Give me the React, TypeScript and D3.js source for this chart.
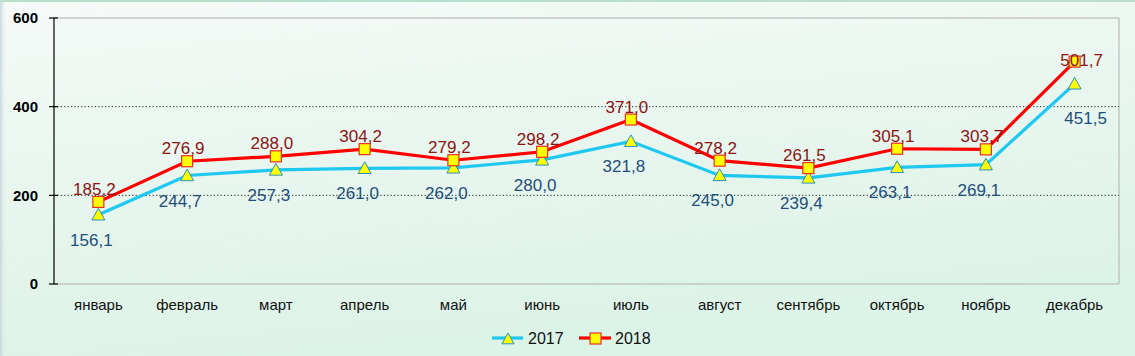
import React from "react";
import * as d3 from "d3";

const months = ["январь","февраль","март","апрель","май","июнь","июль","август","сентябрь","октябрь","ноябрь","декабрь"];
const values2017 = [156.1,244.7,257.3,261.0,262.0,280.0,321.8,245.0,239.4,263.1,269.1,451.5];
const values2018 = [185.2,276.9,288.0,304.2,279.2,298.2,371.0,278.2,261.5,305.1,303.7,501.7];
const yTicks = [0,200,400,600];
const seriesNames = ["2017","2018"];

const W = 1135, H = 356;
const M = { left: 54, right: 1119, top: 18, bottom: 284 };
const fmt = (v: number) => v.toFixed(1).replace(".", ",");

export default function App() {
  const x = d3.scaleBand<string>().domain(months).range([M.left, M.right]);
  const y = d3.scaleLinear().domain([0, 600]).range([M.bottom, M.top]);
  const cx = (m: string) => (x(m) as number) + x.bandwidth() / 2;
  const line = d3.line<number>().x((_, i) => cx(months[i])).y(d => y(d));
  const font = "'Liberation Sans', Arial, sans-serif";
  const tri = (px: number, py: number, s = 6.5) =>
    `M${px},${py - s} L${px + s},${py + s * 0.8} L${px - s},${py + s * 0.8} Z`;

  return (
    <svg width={W} height={H} style={{ position: "absolute", left: 0, top: 0 }} fontFamily={font}>
      <defs>
        <linearGradient id="bg" x1="0" y1="0" x2="0.3" y2="1">
          <stop offset="0" stopColor="#f6faf8" />
          <stop offset="0.45" stopColor="#e9f6ef" />
          <stop offset="1" stopColor="#dcf3e7" />
        </linearGradient>
        <linearGradient id="lb" x1="0" y1="0" x2="1" y2="0">
          <stop offset="0" stopColor="#c9d6e0" />
          <stop offset="1" stopColor="#e4f2ec" stopOpacity="0" />
        </linearGradient>
      </defs>
      <rect x={0} y={0} width={W} height={H} fill="url(#bg)" />
      <rect x={0} y={0} width={6} height={H} fill="url(#lb)" />
      <rect x={0} y={0} width={W} height={2} fill="#b9e0cd" />

      {/* plot border */}
      <line x1={M.left} x2={M.right} y1={y(600)} y2={y(600)} stroke="#b0b0b0" />
      <line x1={M.right} x2={M.right} y1={y(600)} y2={y(0)} stroke="#b0b0b0" />
      <line x1={M.left} x2={M.right} y1={y(0)} y2={y(0)} stroke="#b0b0b0" />

      {/* gridlines */}
      {[200, 400].map(t => (
        <line key={t} x1={M.left} x2={M.right} y1={y(t)} y2={y(t)} stroke="#222" strokeWidth={1} strokeDasharray="1.2 2.2" />
      ))}

      {/* y axis */}
      <line x1={M.left} x2={M.left} y1={y(600)} y2={y(0)} stroke="#000" strokeWidth={1.2} />
      {yTicks.map(t => (
        <g key={t}>
          <line x1={M.left - 5} x2={M.left + 4} y1={y(t)} y2={y(t)} stroke="#000" strokeWidth={1.2} />
          <text x={38} y={y(t)} dy="0.35em" textAnchor="end" fontSize={15} fontWeight="bold" fill="#000">{t}</text>
        </g>
      ))}

      {/* x labels */}
      {months.map(m => (
        <text key={m} x={cx(m)} y={310} textAnchor="middle" fontSize={15} fill="#111">{m}</text>
      ))}

      {/* lines */}
      <path d={line(values2017) || ""} fill="none" stroke="#1ec8f0" strokeWidth={3.2} />
      <path d={line(values2018) || ""} fill="none" stroke="#ff0000" strokeWidth={3.2} />

      {values2017.map((v, i) => (
        <path key={"t" + i} d={tri(cx(months[i]), y(v))} fill="#ffff00" stroke="#2a8fc0" strokeWidth={1} />
      ))}
      {values2018.map((v, i) => (
        <rect key={"s" + i} x={cx(months[i]) - 5.5} y={y(v) - 5.5} width={11} height={11} fill="#ffff00" stroke="#e83020" strokeWidth={1.2} />
      ))}

      {values2018.map((v, i) => (
        <text key={"l18" + i} x={cx(months[i]) - 4 + (i === 11 ? 11 : 0)} y={y(v) - (i === 11 ? -4 : 7)} textAnchor="middle" fontSize={17} fill="#8b1414">{fmt(v)}</text>
      ))}
      {values2017.map((v, i) => (
        <text key={"l17" + i} x={cx(months[i]) - 7 + (i === 11 ? 18 : 0)} y={y(v) + (i === 11 ? 40 : 31)} textAnchor="middle" fontSize={17} fill="#1f4e7a">{fmt(v)}</text>
      ))}

      {/* legend */}
      <g>
        <line x1={492} x2={523} y1={338} y2={338} stroke="#1ec8f0" strokeWidth={3.2} />
        <path d={tri(508, 339, 6)} fill="#ffff00" stroke="#2a8fc0" strokeWidth={1} />
        <text x={528} y={338} dy="0.36em" fontSize={16} fill="#111">{seriesNames[0]}</text>
        <line x1={579} x2={611} y1={338} y2={338} stroke="#ff0000" strokeWidth={3.2} />
        <rect x={590} y={333} width={11} height={11} fill="#ffff00" stroke="#e83020" strokeWidth={1.2} />
        <text x={615} y={338} dy="0.36em" fontSize={16} fill="#111">{seriesNames[1]}</text>
      </g>
    </svg>
  );
}
